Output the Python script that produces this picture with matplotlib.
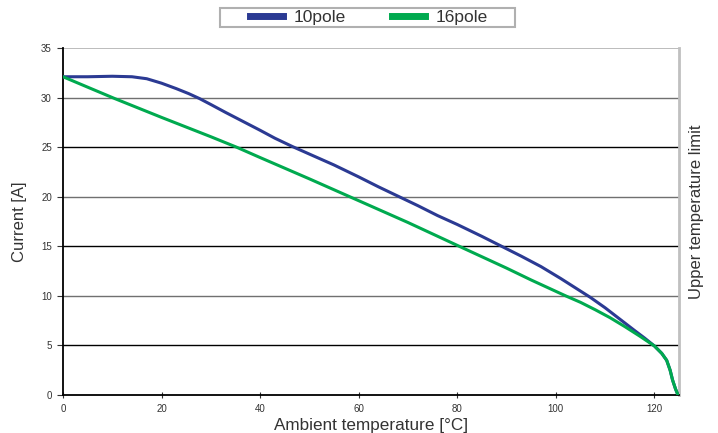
import numpy as np
import matplotlib.pyplot as plt
from matplotlib.patches import Rectangle

plt.rcParams['font.family'] = ['Liberation Sans', 'DejaVu Sans']

# 10pole curve
temp_10 = [0, 5, 10, 14, 17, 20, 23, 25.5, 27.7, 30, 33, 36.5, 40, 43, 46.6, 50, 55, 60, 64, 68,
           72, 76, 80, 85, 89, 93, 97, 101, 104, 107, 110, 113, 116, 118, 120,
           121.5, 122.5, 123.2, 123.7, 124.3, 124.8]
curr_10 = [32.1, 32.1, 32.15, 32.1, 31.9, 31.45, 30.9, 30.4, 29.9, 29.3, 28.5, 27.6, 26.7, 25.9, 25.05, 24.3, 23.2, 22.0, 21.0, 20.05,
           19.1, 18.1, 17.2, 16.0, 15.0, 14.0, 12.95, 11.75, 10.8, 9.85, 8.8, 7.65, 6.5, 5.75, 4.95,
           4.2, 3.5, 2.5, 1.5, 0.6, 0.0]

# 16pole curve
temp_16 = [0, 5, 10.5, 20, 30, 35.2, 40, 50, 60, 70, 80.4, 90, 95, 102, 105, 108, 111, 114, 117, 120,
           121.5, 122.5, 123.2, 123.7, 124.3, 124.8]
curr_16 = [32.1, 31.05, 29.9, 28.0, 26.05, 25.0, 23.95, 21.8, 19.6, 17.4, 15.0, 12.8, 11.6, 10.0, 9.35, 8.6, 7.8, 6.9, 5.95, 4.95,
           4.2, 3.5, 2.5, 1.5, 0.6, 0.0]

legend_labels = ['10pole', '16pole']
line_colors = ['#2b3a93', '#00aa4f']
text_col = '#333333'

fig = plt.figure(figsize=(7.18, 4.33), dpi=100)
ax = fig.add_axes([63 / 718, 1 - 395 / 433, (679 - 63) / 718, (395 - 48) / 433])

# horizontal grid lines, alternating grey / black like the original
grid_col = {35: '#b0b0b0', 30: '#707070', 25: '#000000', 20: '#707070',
            15: '#000000', 10: '#707070', 5: '#000000'}
for yv, c in grid_col.items():
    ax.axhline(yv, color=c, lw=1.2 if yv == 35 else 1.0, zorder=1)

l1, = ax.plot(temp_10, curr_10, color=line_colors[0], lw=2.2, zorder=3, solid_joinstyle='round')
l2, = ax.plot(temp_16, curr_16, color=line_colors[1], lw=2.2, zorder=4, solid_joinstyle='round')

ax.set_xlim(0, 125)
ax.set_ylim(0, 35)
ax.set_xticks([0, 20, 40, 60, 80, 100, 120])
ax.set_yticks([0, 5, 10, 15, 20, 25, 30, 35])
ax.tick_params(axis='x', direction='inout', length=5, labelsize=7, colors=text_col, pad=4)
ax.tick_params(axis='y', direction='out', length=4, labelsize=7, colors=text_col, pad=4)

ax.spines['top'].set_visible(False)
ax.spines['right'].set_color('#c0c0c0')
ax.spines['right'].set_linewidth(2)
ax.spines['left'].set_linewidth(1.3)
ax.spines['bottom'].set_linewidth(1.3)

ax.set_xlabel('Ambient temperature [°C]', fontsize=12.3, color=text_col, labelpad=3)
ax.set_ylabel('Current [A]', fontsize=12, color=text_col, labelpad=10)
fig.text(697 / 718, 1 - 212 / 433, 'Upper temperature limit', rotation=90,
         ha='center', va='center', fontsize=12, color=text_col)

# legend box drawn separately, entries placed inside it
fig.patches.append(Rectangle((220 / 718, 1 - 27 / 433), 295 / 718, 19 / 433,
                             transform=fig.transFigure, facecolor='white',
                             edgecolor='#b0b0b0', lw=1.5))
leg = fig.legend([l1, l2], legend_labels, loc='center', bbox_to_anchor=(369 / 718, 1 - 17 / 433),
                 ncol=2, frameon=False, fontsize=12.5, handlelength=1.9,
                 columnspacing=2.7, borderpad=0.1, handletextpad=0.6, labelcolor=text_col)
for h in leg.get_lines():
    h.set_linewidth(5)

fig.savefig('out.png', dpi=100)
